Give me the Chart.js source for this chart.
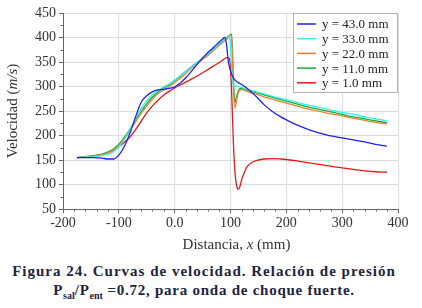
<!DOCTYPE html>
<html>
<head>
<meta charset="utf-8">
<script src="https://cdn.jsdelivr.net/npm/chart.js@4"></script>
<style>
  body { margin: 0; background: #fff; width: 422px; height: 308px; overflow: hidden; }
  #wrap { position: relative; width: 422px; height: 258px; }
  .cap { font-family: "Liberation Serif", serif; font-weight: bold; font-size: 15px;
         color: #1d2440; text-align: center; line-height: 19px; padding-top: 4px;
         width: 408px; }
  .cap .l1 { letter-spacing: 1px; }
  .cap .l2 { letter-spacing: 0.75px; }
  .cap sub { font-size: 10px; vertical-align: -4px; line-height: 0; letter-spacing: 0; }
</style>
</head>
<body>
<div id="wrap"><canvas id="chart" width="422" height="258"></canvas></div>
<div class="cap">
  <div class="l1">Figura 24. Curvas de velocidad. Relación de presión</div>
  <div class="l2">P<sub>sal</sub>/P<sub>ent</sub> =0.72, para onda de choque fuerte.</div>
</div>
<script>
// distance along the duct (mm), shared by all curves
var distancia = [-175, -160, -145, -130, -120, -110, -100, -90, -80, -70, -60, -50, -40, -30, -20, -10,
    0, 10, 20, 30, 40, 50, 60, 70, 80, 85, 90, 93, 96, 99, 102, 105, 108, 111, 114, 117, 120,
    125, 130, 140, 150, 160, 175, 190, 200, 220, 240, 260, 280, 300, 320, 340, 360, 380];

var velY43 = [155, 155, 155, 154, 152, 152, 160, 178, 205, 238, 268, 281, 289, 293, 294, 296,
    299, 307, 318, 331, 345, 358, 370, 380, 391, 396, 400, 385, 352, 336, 325, 318, 313, 310, 308, 306, 304,
    300, 296, 286, 275, 263, 249, 238, 232, 221, 212, 205, 199, 195, 191, 187, 182, 178];

var velY33 = [155, 156, 157, 159, 162, 167, 177, 192, 212, 234, 255, 271, 283, 292, 299, 305,
    313, 322, 331, 340, 349, 358, 367, 377, 387, 392, 397, 400, 404, 396, 335, 303, 301, 301, 300, 299, 298,
    296, 294, 291, 288, 285, 280, 276, 273, 267, 262, 257, 252, 247, 243, 238, 234, 230];

var velY22 = [155, 156, 158, 161, 164, 170, 179, 193, 210, 228, 245, 260, 274, 285, 293, 299,
    308, 317, 327, 337, 346, 355, 364, 374, 384, 389, 394, 397, 400, 403, 405, 300, 256, 272, 287, 293, 294,
    292, 290, 286, 283, 279, 274, 269, 266, 260, 254, 249, 244, 240, 235, 231, 227, 223];

var velY11 = [155, 157, 159, 162, 166, 172, 182, 196, 213, 231, 249, 265, 278, 289, 297, 303,
    312, 321, 331, 340, 349, 357, 366, 376, 386, 391, 396, 399, 402, 405, 407, 320, 267, 280, 291, 296, 296,
    294, 292, 289, 286, 283, 278, 273, 270, 264, 258, 253, 248, 243, 238, 234, 230, 226];

var velY1 = [155, 156, 158, 161, 164, 169, 177, 186, 197, 212, 229, 246, 260, 272, 282, 290,
    297, 303, 309, 315, 321, 328, 335, 342, 349, 353, 357, 359, 359, 352, 290, 190, 125, 97, 90, 96, 110,
    125, 137, 146, 150, 152, 153, 152, 151, 148, 144, 141, 137, 134, 131, 128, 126, 125];

var serieLabels = ['y = 43.0 mm', 'y = 33.0 mm', 'y = 22.0 mm', 'y = 11.0 mm', 'y = 1.0 mm'];
var serieColors = ['#2020f0', '#30f0f0', '#f08030', '#10b030', '#e81818'];
var serieValues = [velY43, velY33, velY22, velY11, velY1];

var serif = '"Liberation Serif", "Times New Roman", serif';

function toPoints(vals) {
    return distancia.map(function (x, i) {
        return {x: x, y: vals[i]};
    });
}

var datasets = serieValues.map(function (vals, i) {
    return {
        label: serieLabels[i],
        data: toPoints(vals),
        borderColor: serieColors[i],
        borderWidth: 1.3,
        pointRadius: 0,
        cubicInterpolationMode: 'monotone',
        fill: false
    };
});

/**
 * Minor ticks, axis titles with italic parts and the boxed legend.
 */
var extras = {
    id: 'extras',
    afterDraw: function (chart) {
        var ctx = chart.ctx;
        var area = chart.chartArea;
        var xs = chart.scales.x;
        var ys = chart.scales.y;
        ctx.save();
        ctx.strokeStyle = '#666';
        ctx.lineWidth = 1;
        ctx.beginPath();
        for (var v = -200; v <= 400; v += 20) {
            if (v % 100 === 0) {
                continue;
            }
            var px = Math.round(xs.getPixelForValue(v)) + 0.5;
            ctx.moveTo(px, area.bottom);
            ctx.lineTo(px, area.bottom + 2.5);
        }
        for (var w = 75; w < 450; w += 50) {
            var py = Math.round(ys.getPixelForValue(w)) + 0.5;
            ctx.moveTo(area.left, py);
            ctx.lineTo(area.left - 2.5, py);
        }
        ctx.stroke();

        // axis titles
        ctx.fillStyle = '#333';
        ctx.textBaseline = 'middle';
        drawParts(ctx, [['Distancia, ', false], ['x', true], [' (mm)', false]],
            (area.left + area.right) / 2 + 6, 245);
        ctx.save();
        ctx.translate(13, (area.top + area.bottom) / 2);
        ctx.rotate(-Math.PI / 2);
        drawParts(ctx, [['Velocidad (', false], ['m/s', true], [')', false]], 0, 0);
        ctx.restore();

        // legend box
        var bw = 105, bh = 80;
        var bx = area.right - bw, by = area.top;
        ctx.fillStyle = '#fff';
        ctx.fillRect(bx, by, bw, bh);
        ctx.strokeStyle = '#b4b4b4';
        ctx.strokeRect(bx + 0.5, by + 0.5, bw - 1, bh - 1);
        ctx.font = '13px ' + serif;
        ctx.textAlign = 'left';
        for (var i = 0; i < serieLabels.length; i++) {
            var ry = by + 11 + i * 14.7;
            ctx.strokeStyle = serieColors[i];
            ctx.lineWidth = 1.5;
            ctx.beginPath();
            ctx.moveTo(bx + 4, ry);
            ctx.lineTo(bx + 23, ry);
            ctx.stroke();
            ctx.fillStyle = '#222';
            ctx.fillText(serieLabels[i], bx + 29, ry + 1);
        }
        ctx.restore();
    }
};

function drawParts(ctx, parts, cx, cy) {
    var total = 0;
    parts.forEach(function (p) {
        ctx.font = (p[1] ? 'italic ' : '') + '15px ' + serif;
        total += ctx.measureText(p[0]).width;
    });
    var x = cx - total / 2;
    ctx.textAlign = 'left';
    parts.forEach(function (p) {
        ctx.font = (p[1] ? 'italic ' : '') + '15px ' + serif;
        ctx.fillText(p[0], x, cy);
        x += ctx.measureText(p[0]).width;
    });
}

new Chart(document.getElementById('chart'), {
    type: 'line',
    data: {datasets: datasets},
    options: {
        responsive: false,
        animation: false,
        layout: {padding: {left: 0, right: 24, top: 13, bottom: 0}},
        plugins: {legend: {display: false}, tooltip: {enabled: false}},
        scales: {
            x: {
                type: 'linear',
                min: -200,
                max: 400,
                afterFit: function (s) {
                    s.height = 49;
                },
                ticks: {
                    stepSize: 100,
                    padding: 2,
                    color: '#333',
                    font: {family: serif, size: 14},
                    maxRotation: 0,
                    callback: function (v) {
                        return v === 0 ? '0.0' : v;
                    }
                },
                grid: {color: '#dddddd', tickColor: '#666', tickLength: 4},
                border: {color: '#666'}
            },
            y: {
                min: 50,
                max: 450,
                afterFit: function (s) {
                    s.width = 63;
                },
                ticks: {
                    stepSize: 50,
                    padding: 3,
                    color: '#333',
                    font: {family: serif, size: 14}
                },
                grid: {color: '#dddddd', tickColor: '#666', tickLength: 4},
                border: {color: '#666'}
            }
        }
    },
    plugins: [extras]
});
</script>
</body>
</html>
